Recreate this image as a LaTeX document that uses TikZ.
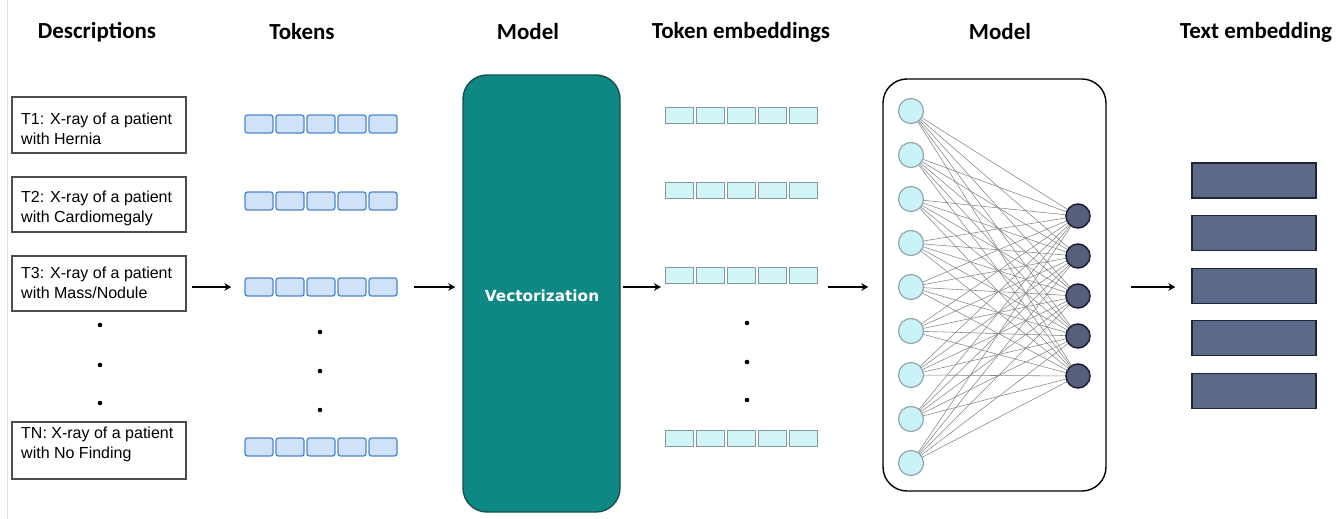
\documentclass[tikz,border=0pt]{standalone}
\usepackage{fontspec}
\setmainfont{Liberation Sans}
\newfontfamily\hdrfont{Carlito}
\newfontfamily\vecfont{DejaVu Sans}
\usetikzlibrary{arrows.meta}

\definecolor{tealfill}{HTML}{0E8884}
\definecolor{tealline}{HTML}{16504D}
\definecolor{tokfill}{HTML}{CFE2F7}
\definecolor{tokline}{HTML}{4F86CF}
\definecolor{embfill}{HTML}{D2F5F8}
\definecolor{embline}{HTML}{85979A}
\definecolor{infill}{HTML}{C9F3F7}
\definecolor{inline}{HTML}{8FA8A8}
\definecolor{outfill}{HTML}{56607E}
\definecolor{outline}{HTML}{1C2233}
\definecolor{barfill}{HTML}{5B6888}
\definecolor{barline}{HTML}{1F2636}
\definecolor{edgegray}{HTML}{868686}

\begin{document}
\begin{tikzpicture}[x=1pt,y=-1pt,
  header/.style={font=\hdrfont\bfseries\fontsize{23}{27}\selectfont, inner sep=0pt},
  descbox/.style={draw=black!70, line width=1.4pt, minimum width=174pt, inner sep=0pt},
  desctext/.style={font=\fontsize{16}{20}\selectfont, align=left, anchor=north west, inner sep=0pt, text=black},
  tokcell/.style={draw=tokline, fill=tokfill, line width=1.3pt, rounded corners=2.5pt, minimum width=28pt, minimum height=18pt, inner sep=0pt},
  embcell/.style={draw=embline, fill=embfill, line width=1pt, minimum width=28pt, minimum height=16pt, inner sep=0pt},
  vdot/.style={circle, fill=black, inner sep=0pt, minimum size=4.6pt},
  innode/.style={circle, draw=inline, fill=infill, line width=1.2pt, minimum size=25pt, inner sep=0pt},
  outnode/.style={circle, draw=outline, fill=outfill, line width=1.5pt, minimum size=24pt, inner sep=0pt},
  bar/.style={draw=barline, fill=barfill, line width=1.3pt, minimum width=124pt, minimum height=35pt, inner sep=0pt},
  arr/.style={line width=1.8pt, -{Stealth[length=7pt,width=7.5pt]}},
  link/.style={draw=edgegray, line width=0.55pt}
]
\useasboundingbox (0,0) rectangle (1342,519);
\fill[white] (0,0) rectangle (1342,519);
\draw[black!12, line width=1pt] (7,0) -- (7,519);

% column headers
\node[header] (hdesc) at (97,32) {Descriptions};
\node[header] (htok)  at (302,32) {Tokens};
\node[header] (hmod1) at (528,32) {Model};
\node[header] (hemb)  at (741,32) {Token embeddings};
\node[header] (hmod2) at (1000,32) {Model};
\node[header] (htxt)  at (1256,32) {Text embedding};

% description boxes
\node[descbox, minimum height=56pt] (d1) at (99,125) {};
\node[descbox, minimum height=55pt] (d2) at (99,204.5) {};
\node[descbox, minimum height=55pt] (d3) at (99,283.5) {};
\node[descbox, minimum height=57pt] (dN) at (99,450.5) {};
\node[desctext] (d1t) at (21,113) {T1: X-ray of a patient\\with Hernia};
\node[desctext] (d2t) at (21,191) {T2: X-ray of a patient\\with Cardiomegaly};
\node[desctext] (d3t) at (21,267) {T3: X-ray of a patient\\with Mass/Nodule};
\node[desctext] (dNt) at (21,427) {TN: X-ray of a patient\\with No Finding};
\node[vdot] (dd1) at (100,325) {};
\node[vdot] (dd2) at (100,365) {};
\node[vdot] (dd3) at (100,403) {};

% token rows
\foreach \r/\yy in {1/124, 2/201, 3/287, N/447} {
  \foreach \c in {1,...,5} {
    \node[tokcell] (t\r-\c) at ({259+31*(\c-1)},\yy) {};
  }
}
\node[vdot] (td1) at (320,332) {};
\node[vdot] (td2) at (320,371) {};
\node[vdot] (td3) at (320,410) {};

% vectorization model
\node[draw=tealline, fill=tealfill, line width=1.4pt, rounded corners=24pt,
      minimum width=157pt, minimum height=437pt, inner sep=0pt] (model) at (541.5,293.5) {};
\node[font=\vecfont\bfseries\fontsize{15.3}{18}\selectfont, text=white, inner sep=0pt] (vec) at (542,296) {Vectorization};

% token embedding rows
\foreach \r/\yy in {1/115, 2/190, 3/275, N/438} {
  \foreach \c in {1,...,5} {
    \node[embcell] (e\r-\c) at ({679.5+31*(\c-1)},\yy) {};
  }
}
\node[vdot] (ed1) at (747,323) {};
\node[vdot] (ed2) at (747,362) {};
\node[vdot] (ed3) at (747,400) {};

% network model: frame, fully connected links, then the two layers on top
\node[draw=black, line width=1.4pt, rounded corners=24pt,
      minimum width=223pt, minimum height=412pt, inner sep=0pt] (net) at (994.5,285) {};
\foreach \i in {1,...,9} {
  \coordinate (inpos\i) at (911,{111+44*(\i-1)});
}
\foreach \j in {1,...,5} {
  \coordinate (outpos\j) at (1078,{216+40*(\j-1)});
}
\foreach \i in {1,...,9} {
  \foreach \j in {1,...,5} {
    \draw[link] (inpos\i) -- (outpos\j);
  }
}
\foreach \i in {1,...,9} {
  \node[innode] (in\i) at (inpos\i) {};
}
\foreach \j in {1,...,5} {
  \node[outnode] (out\j) at (outpos\j) {};
}

% text embedding bars
\foreach \k in {1,...,5} {
  \node[bar] (b\k) at (1254,{180.5+52.6*(\k-1)}) {};
}

% flow arrows
\coordinate (lvl) at (0,287);
\draw[arr] ([xshift=5pt]d3.east |- lvl) -- ([xshift=-13pt]t3-1.west |- lvl);
\draw[arr] ([xshift=16pt]t3-5.east |- lvl) -- ([xshift=-7pt]model.west |- lvl);
\draw[arr] ([xshift=2pt]model.east |- lvl) -- ([xshift=-4pt]e3-1.west |- lvl);
\draw[arr] ([xshift=10pt]e3-5.east |- lvl) -- ([xshift=-14pt]net.west |- lvl);
\draw[arr] ([xshift=24pt]net.east |- lvl) -- ([xshift=-16pt]b3.west |- lvl);
\end{tikzpicture}
\end{document}
